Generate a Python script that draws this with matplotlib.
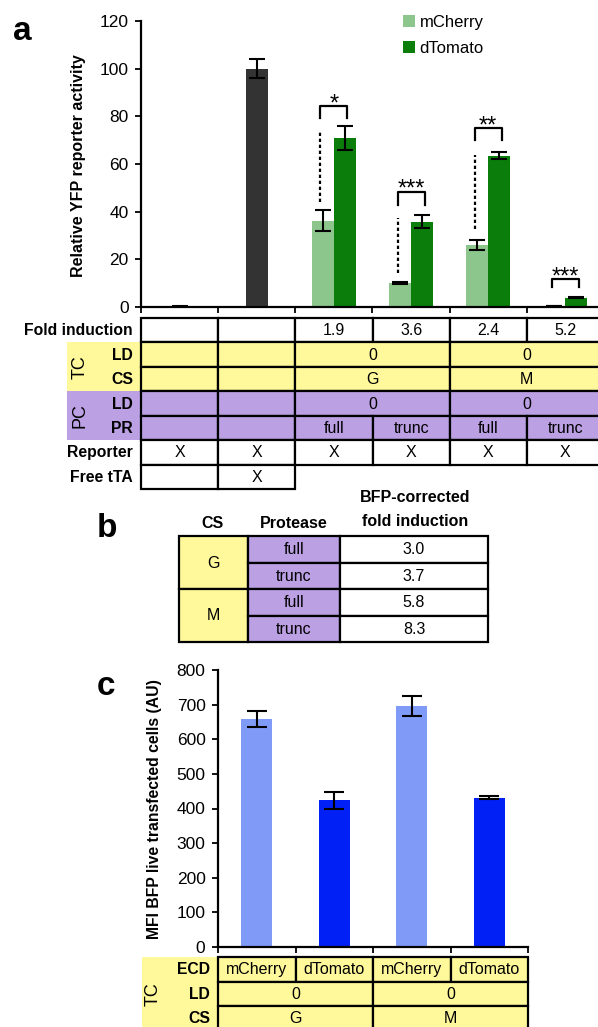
import numpy as np
import matplotlib
matplotlib.use('Agg')
import matplotlib.pyplot as plt
from matplotlib.patches import Rectangle

plt.rcParams['font.family'] = ['Liberation Sans', 'DejaVu Sans']

# ---- panel a data ----
a_ctrl = [0.3, 100.0]
a_ctrl_err = [0.2, 4.0]
a_series = ['mCherry', 'dTomato']
a_mcherry = [36.2, 10.0, 26.0, 0.5]
a_mcherry_err = [4.5, 0.3, 2.1, 0.1]
a_dtomato = [70.8, 35.8, 63.4, 3.9]
a_dtomato_err = [5.0, 2.7, 1.5, 0.3]
sig_labels = ['*', '***', '**', '***']
sig_height = [84.3, 48.4, 75.0, 11.6]
sig_leg = [5.0, 5.5, 5.0, 3.3]
dot_lo = [44.0, 14.2, 32.7, None]
dot_hi = [74.3, 37.3, 63.8, None]

a_row_labels = ['Fold induction', 'LD', 'CS', 'LD', 'PR', 'Reporter', 'Free tTA']
a_fold = ['', '', '1.9', '3.6', '2.4', '5.2']
a_tc_ld = [('', 1), ('', 1), ('0', 2), ('0', 2)]
a_tc_cs = [('', 1), ('', 1), ('G', 2), ('M', 2)]
a_pc_ld = [('', 1), ('', 1), ('0', 2), ('0', 2)]
a_pc_pr = ['', '', 'full', 'trunc', 'full', 'trunc']
a_reporter = ['X', 'X', 'X', 'X', 'X', 'X']
a_free_tta = ['', 'X']

# ---- panel b data ----
b_cs = ['G', 'M']
b_protease = ['full', 'trunc', 'full', 'trunc']
b_fold = ['3.0', '3.7', '5.8', '8.3']

# ---- panel c data ----
c_ecd = ['mCherry', 'dTomato', 'mCherry', 'dTomato']
c_vals = [658, 424, 696, 431]
c_err = [23, 25, 30, 4]
c_ld = [('0', 2), ('0', 2)]
c_cs = [('G', 2), ('M', 2)]

YELLOW = '#fff99c'
PURPLE = '#bba0e3'
LGREEN = '#8cc68c'
DGREEN = '#0a7d0a'
LBLUE = '#7f9bf7'
DBLUE = '#0020f5'

W, H = 598, 1027
fig = plt.figure(figsize=(W / 100, H / 100), dpi=100)


def fig_box(l, t, r, b):
    return [l / W, 1 - b / H, (r - l) / W, (b - t) / H]


def style_axes(ax, n):
    for s in ['top', 'right']:
        ax.spines[s].set_visible(False)
    for s in ['left', 'bottom']:
        ax.spines[s].set_linewidth(1.6)
    ax.set_xlim(-0.5, n - 0.5)
    ax.set_xticks(np.arange(n + 1) - 0.5)
    ax.set_xticklabels([])
    ax.tick_params(axis='x', direction='out', length=4, width=1.3)
    ax.tick_params(axis='y', direction='out', length=4, width=1.3,
                   labelsize=12.5, pad=5)


# overlay axes in pixel coordinates for tables and free text
ov = fig.add_axes([0, 0, 1, 1])
ov.set_xlim(0, W)
ov.set_ylim(H, 0)
ov.axis('off')
ov.patch.set_visible(False)


def cell(x0, x1, y0, y1, text='', fc='white', size=11.5):
    ov.add_patch(Rectangle((x0, y0), x1 - x0, y1 - y0, fc=fc, ec='black', lw=1.6))
    if text:
        ov.text((x0 + x1) / 2, (y0 + y1) / 2 + 0.5, text, ha='center', va='center',
                fontsize=size)


def table_row(edges, y0, y1, cells, fc):
    c = 0
    for item in cells:
        text, span = item if isinstance(item, tuple) else (item, 1)
        cell(edges[c], edges[c + span], y0, y1, text, fc)
        c += span


# ================= panel a =================
axa = fig.add_axes(fig_box(141, 21, 604, 307))
style_axes(axa, 6)
axa.set_ylim(0, 120)
axa.set_yticks(np.arange(0, 121, 20))

xc = np.arange(2)
axa.bar(xc, a_ctrl, width=0.28, color='#333333')
axa.errorbar(xc, a_ctrl, yerr=a_ctrl_err, fmt='none', ecolor='black',
             capsize=6, elinewidth=1.5, capthick=1.5)

xg = np.arange(2, 6)
bw = 0.285
h1 = axa.bar(xg - bw / 2, a_mcherry, width=bw, color=LGREEN, label=a_series[0])
h2 = axa.bar(xg + bw / 2, a_dtomato, width=bw, color=DGREEN, label=a_series[1])
axa.errorbar(xg - bw / 2, a_mcherry, yerr=a_mcherry_err, fmt='none', ecolor='black',
             capsize=6, elinewidth=1.5, capthick=1.5)
axa.errorbar(xg + bw / 2, a_dtomato, yerr=a_dtomato_err, fmt='none', ecolor='black',
             capsize=6, elinewidth=1.5, capthick=1.5)

for i, x in enumerate(xg):
    xl, xr = x - 0.175, x + 0.175
    yt = sig_height[i]
    axa.plot([xl, xl, xr, xr], [yt - sig_leg[i], yt, yt, yt - sig_leg[i]],
             color='black', lw=1.6, clip_on=False)
    axa.text(x, yt - 1.8, sig_labels[i], ha='center', va='baseline', fontsize=17)
    if dot_lo[i] is not None:
        axa.plot([xl, xl], [dot_lo[i], dot_hi[i]], color='black', lw=1.6,
                 ls=(0, (1.5, 1.2)))

axa.legend(handles=[h1, h2], loc='upper left', bbox_to_anchor=(403 / W, 1 - 15 / H),
           bbox_transform=fig.transFigure, frameon=False, fontsize=12,
           handlelength=0.7, handleheight=0.7, handletextpad=0.3,
           labelspacing=0.65, borderpad=0, borderaxespad=0)

ov.text(79, 166, 'Relative YFP reporter activity', rotation=90, ha='center',
        va='center', fontsize=11.5, fontweight='bold')
ov.text(13, 40, 'a', fontsize=24, fontweight='bold', va='baseline')

# table a
ea = [141 + i * 77.17 for i in range(7)]
rt = 318
rh = 24.45
ys = [rt + i * rh for i in range(8)]
ov.add_patch(Rectangle((67, ys[1]), 141 - 67, 2 * rh, fc=YELLOW, ec='none'))
ov.add_patch(Rectangle((67, ys[3]), 141 - 67, 2 * rh, fc=PURPLE, ec='none'))
table_row(ea, ys[0], ys[1], a_fold, 'white')
table_row(ea, ys[1], ys[2], a_tc_ld, YELLOW)
table_row(ea, ys[2], ys[3], a_tc_cs, YELLOW)
table_row(ea, ys[3], ys[4], a_pc_ld, PURPLE)
table_row(ea, ys[4], ys[5], a_pc_pr, PURPLE)
table_row(ea, ys[5], ys[6], a_reporter, 'white')
table_row(ea, ys[6], ys[7], a_free_tta, 'white')
for i, lab in enumerate(a_row_labels):
    ov.text(133, (ys[i] + ys[i + 1]) / 2 + 0.5, lab, ha='right', va='center',
            fontsize=11.3, fontweight='bold')
ov.text(80, ys[2], 'TC', rotation=90, ha='center', va='center', fontsize=13)
ov.text(80, ys[4], 'PC', rotation=90, ha='center', va='center', fontsize=13)

# ================= panel b =================
ov.text(97, 537, 'b', fontsize=24, fontweight='bold', va='baseline')
eb = [179, 248, 340, 488]
bt = 536
bh = 26.5
ov.text(213, 523, 'CS', ha='center', va='center', fontsize=11.5, fontweight='bold')
ov.text(294, 523, 'Protease', ha='center', va='center', fontsize=11.5, fontweight='bold')
ov.text(415, 498, 'BFP-corrected', ha='center', va='center', fontsize=11.5,
        fontweight='bold')
ov.text(415, 522, 'fold induction', ha='center', va='center', fontsize=11.5,
        fontweight='bold')
for i, cs in enumerate(b_cs):
    cell(eb[0], eb[1], bt + 2 * i * bh, bt + 2 * (i + 1) * bh, cs, YELLOW)
for i in range(len(b_protease)):
    cell(eb[1], eb[2], bt + i * bh, bt + (i + 1) * bh, b_protease[i], PURPLE)
    cell(eb[2], eb[3], bt + i * bh, bt + (i + 1) * bh, b_fold[i], 'white')

# ================= panel c =================
axc = fig.add_axes(fig_box(218, 670, 528, 947))
style_axes(axc, 4)
axc.set_ylim(0, 800)
axc.set_yticks(np.arange(0, 801, 100))
xcc = np.arange(4)
axc.bar(xcc, c_vals, width=0.4, color=[LBLUE, DBLUE, LBLUE, DBLUE])
axc.errorbar(xcc, c_vals, yerr=c_err, fmt='none', ecolor='black',
             capsize=7, elinewidth=1.5, capthick=1.5)

ov.text(155, 809, 'MFI BFP live transfected cells (AU)', rotation=90, ha='center',
        va='center', fontsize=11.3, fontweight='bold')
ov.text(97, 695, 'c', fontsize=24, fontweight='bold', va='baseline')

ec = [218 + i * 77.5 for i in range(5)]
ct = 957
ch = 24.5
cy = [ct + i * ch for i in range(4)]
ov.add_patch(Rectangle((142, cy[0]), 218 - 142, 3 * ch + 5, fc=YELLOW, ec='none'))
table_row(ec, cy[0], cy[1], c_ecd, YELLOW)
table_row(ec, cy[1], cy[2], c_ld, YELLOW)
table_row(ec, cy[2], cy[3], c_cs, YELLOW)
for i, lab in enumerate(['ECD', 'LD', 'CS']):
    ov.text(210, (cy[i] + cy[i + 1]) / 2 + 0.5, lab, ha='right', va='center',
            fontsize=11.3, fontweight='bold')
ov.text(153, cy[1] + ch / 2, 'TC', rotation=90, ha='center', va='center', fontsize=13)

fig.savefig('out.png', dpi=100)
